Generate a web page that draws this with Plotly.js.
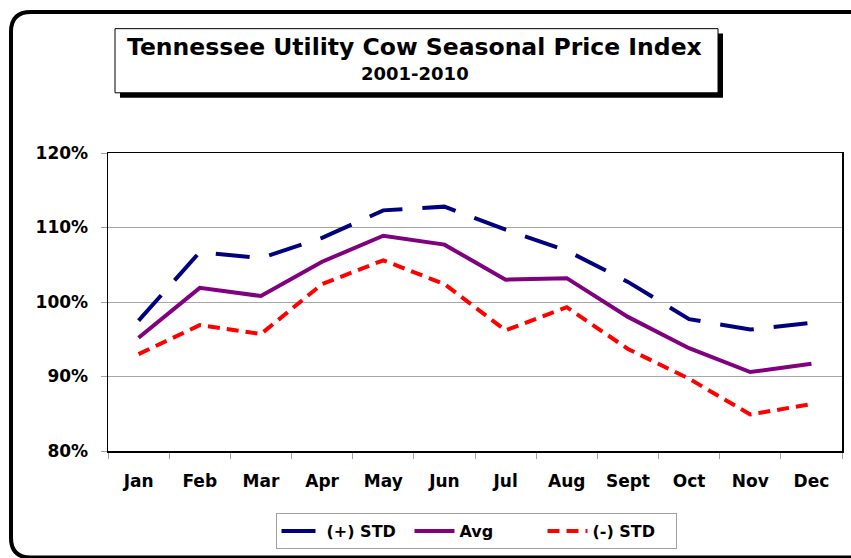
<!DOCTYPE html>
<html>
<head>
<meta charset="utf-8">
<script src="https://cdn.plot.ly/plotly-3.0.1.min.js"></script>
<style>
  html, body { margin: 0; padding: 0; background: #ffffff; }
  #chart { width: 851px; height: 558px; }
</style>
</head>
<body>
<div id="chart"></div>
<script>
// ---- data ----
const months = ["Jan", "Feb", "Mar", "Apr", "May", "Jun", "Jul", "Aug", "Sept", "Oct", "Nov", "Dec"];
const plusStd = [97.5, 106.7, 105.9, 108.6, 112.3, 112.8, 109.7, 106.9, 102.7, 97.7, 96.3, 97.2];
const avg     = [95.2, 101.9, 100.8, 105.4, 108.9, 107.7, 103.0, 103.2, 98.0, 93.8, 90.6, 91.7];
const minusStd = [93.0, 96.9, 95.7, 102.4, 105.6, 102.4, 96.2, 99.3, 93.7, 89.7, 84.9, 86.3];
const seriesNames = ["(+) STD", "Avg", "(-) STD"];
const yTicks = [80, 90, 100, 110, 120];
const titleText = "Tennessee Utility Cow Seasonal Price Index";
const subtitleText = "2001-2010";

// ---- layout geometry ----
const W = 851, H = 558;
const M = { l: 108, r: 9, t: 153, b: 103 };
const PW = W - M.l - M.r, PH = H - M.t - M.b;
const px = x => (x - M.l) / PW;
const py = y => (H - M.b - y) / PH;

const FONT = "DejaVu Sans, Liberation Sans, Arial, sans-serif";

const traces = [
  { x: months, y: plusStd, name: seriesNames[0], type: "scatter", mode: "lines",
    line: { color: "#000080", width: 4, dash: "34px,20px" } },
  { x: months, y: avg, name: seriesNames[1], type: "scatter", mode: "lines",
    line: { color: "#800080", width: 4 } },
  { x: months, y: minusStd, name: seriesNames[2], type: "scatter", mode: "lines",
    line: { color: "#FF0000", width: 4, dash: "12px,7px" } }
];

// rounded outer frame path (extends past right/bottom edges)
function roundRectPath(x0, y0, x1, y1, r) {
  const P = (x, y) => px(x) + "," + py(y);
  return "M" + P(x0 + r, y0) + " L" + P(x1 - r, y0) +
    " Q" + P(x1, y0) + " " + P(x1, y0 + r) +
    " L" + P(x1, y1 - r) + " Q" + P(x1, y1) + " " + P(x1 - r, y1) +
    " L" + P(x0 + r, y1) + " Q" + P(x0, y1) + " " + P(x0, y1 - r) +
    " L" + P(x0, y0 + r) + " Q" + P(x0, y0) + " " + P(x0 + r, y0) + " Z";
}

const layout = {
  width: W, height: H,
  margin: M,
  paper_bgcolor: "#ffffff",
  plot_bgcolor: "#ffffff",
  showlegend: true,
  hovermode: false,
  font: { family: FONT, size: 16, color: "#000000", weight: 700 },
  xaxis: {
    type: "category",
    range: [-0.5, 11.5],
    showline: true, mirror: true, linecolor: "#000000", linewidth: 1.5,
    ticks: "outside", tickson: "boundaries", ticklen: 6, tickcolor: "#a0a0a0",
    showgrid: false, zeroline: false,
    tickfont: { family: FONT, size: 17, weight: 700 },
    ticklabelstandoff: 14
  },
  yaxis: {
    range: [80, 120],
    tickvals: yTicks,
    ticktext: yTicks.map(v => v + "%"),
    showline: true, mirror: true, linecolor: "#000000", linewidth: 1.5,
    ticks: "outside", ticklen: 6, tickcolor: "#a0a0a0",
    showgrid: true, gridcolor: "#a6a6a6", gridwidth: 1,
    zeroline: false,
    tickfont: { family: FONT, size: 17, weight: 700 },
    ticklabelstandoff: 9
  },
  legend: {
    orientation: "h",
    x: px(476), xanchor: "center",
    y: py(518), yanchor: "top",
    bordercolor: "#a0a0a0", borderwidth: 1,
    bgcolor: "#ffffff",
    font: { family: FONT, size: 16, weight: 700 },
    itemwidth: 40,
    entrywidth: 78,
    tracegroupgap: 0
  },
  shapes: [
    { type: "path", xref: "paper", yref: "paper", layer: "above",
      path: roundRectPath(11, 10, 890, 563, 20),
      line: { color: "#000000", width: 4 } },
    { type: "rect", xref: "paper", yref: "paper", layer: "above",
      x0: px(120), x1: px(723), y0: py(32), y1: py(97),
      fillcolor: "#000000", line: { width: 0 } },
    { type: "rect", xref: "paper", yref: "paper", layer: "above",
      x0: px(115), x1: px(718), y0: py(27), y1: py(92),
      fillcolor: "#ffffff", line: { color: "#000000", width: 1 } }
  ],
  annotations: [
    { text: titleText, xref: "paper", yref: "paper", x: px(414), y: py(46),
      xanchor: "center", yanchor: "middle", showarrow: false,
      font: { family: FONT, size: 23.5, weight: 700, color: "#000000" } },
    { text: subtitleText, xref: "paper", yref: "paper", x: px(415), y: py(72),
      xanchor: "center", yanchor: "middle", showarrow: false,
      font: { family: FONT, size: 18, weight: 700, color: "#000000" } }
  ]
};

Plotly.newPlot("chart", traces, layout, { displayModeBar: false, staticPlot: true });
</script>
</body>
</html>
